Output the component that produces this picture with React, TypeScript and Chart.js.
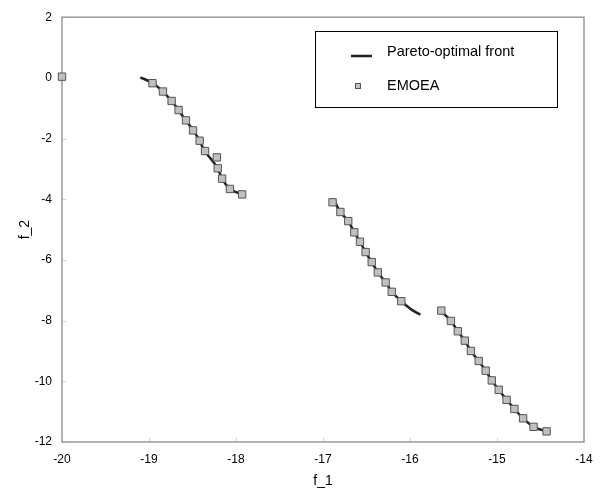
import React, { useEffect, useRef } from "react";
import { Chart, registerables } from "chart.js";

Chart.register(...registerables);

// Pareto-optimal front (three disconnected pieces)
const front1X = [-19.1, -18.96, -18.84, -18.74, -18.66, -18.58, -18.49, -18.42, -18.36, -18.28, -18.21, -18.16, -18.07, -17.93];
const front1Y = [0.02, -0.17, -0.45, -0.76, -1.06, -1.4, -1.73, -2.07, -2.41, -2.7, -2.98, -3.32, -3.66, -3.84];
const front2X = [-16.88, -16.8, -16.71, -16.64, -16.575, -16.51, -16.44, -16.37, -16.28, -16.21, -16.1, -16.0, -15.93, -15.88];
const front2Y = [-4.0, -4.42, -4.72, -5.09, -5.4, -5.74, -6.07, -6.41, -6.74, -7.05, -7.36, -7.6, -7.73, -7.8];
const front3X = [-15.66, -15.53, -15.45, -15.37, -15.3, -15.21, -15.13, -15.06, -14.98, -14.89, -14.8, -14.7, -14.58, -14.43];
const front3Y = [-7.64, -8.01, -8.35, -8.66, -9.0, -9.33, -9.65, -9.97, -10.28, -10.61, -10.91, -11.22, -11.5, -11.65];

// EMOEA solutions
const emoeaX = [
  -20.0, -18.96, -18.84, -18.74, -18.66, -18.575, -18.494, -18.418, -18.356, -18.22, -18.21, -18.16, -18.07, -17.93,
  -16.89, -16.8, -16.71, -16.64, -16.575, -16.51, -16.44, -16.37, -16.28, -16.21, -16.1,
  -15.64, -15.53, -15.45, -15.37, -15.3, -15.21, -15.13, -15.06, -14.98, -14.89, -14.8, -14.7, -14.58, -14.43,
];
const emoeaY = [
  0.04, -0.175, -0.45, -0.76, -1.06, -1.4, -1.73, -2.07, -2.41, -2.62, -2.98, -3.32, -3.66, -3.84,
  -4.1, -4.42, -4.72, -5.09, -5.4, -5.74, -6.07, -6.41, -6.74, -7.05, -7.36,
  -7.67, -8.01, -8.35, -8.66, -9.0, -9.33, -9.65, -9.97, -10.28, -10.61, -10.91, -11.22, -11.5, -11.65,
];

const xTicks = [-20, -19, -18, -17, -16, -15, -14];
const yTicks = [2, 0, -2, -4, -6, -8, -10, -12];

const frontLabel = "Pareto-optimal front";
const emoeaLabel = "EMOEA";
const xTitle = "f_1";
const yTitle = "f_2";

const FONT = "'Liberation Sans', Arial, sans-serif";

function pts(xs: number[], ys: number[]) {
  return xs.map((x, i) => ({ x, y: ys[i] }));
}

const framePlugin = {
  id: "frame",
  beforeDatasetsDraw(chart: any) {
    const { ctx, chartArea } = chart;
    const { left, right, top, bottom } = chartArea;
    const xs = chart.scales.x;
    const ys = chart.scales.y;
    ctx.save();
    ctx.strokeStyle = "#d0d0d0";
    ctx.lineWidth = 1;
    ctx.beginPath();
    xTicks.forEach((v) => {
      const px = Math.round(xs.getPixelForValue(v)) + 0.5;
      ctx.moveTo(px, bottom);
      ctx.lineTo(px, bottom - 4);
    });
    yTicks.forEach((v) => {
      const py = Math.round(ys.getPixelForValue(v)) + 0.5;
      ctx.moveTo(left, py);
      ctx.lineTo(left + 4, py);
    });
    ctx.stroke();
    ctx.strokeStyle = "#9a9a9a";
    ctx.lineWidth = 1.5;
    ctx.strokeRect(left, top, right - left, bottom - top);
    ctx.restore();
  },
  afterDraw(chart: any) {
    const { ctx } = chart;
    ctx.save();
    // legend box
    ctx.fillStyle = "#ffffff";
    ctx.fillRect(315, 31, 242, 76);
    ctx.strokeStyle = "#000000";
    ctx.lineWidth = 1;
    ctx.strokeRect(315.5, 31.5, 242, 76);
    // line sample
    ctx.strokeStyle = "#222222";
    ctx.lineWidth = 2.5;
    ctx.beginPath();
    ctx.moveTo(351, 56);
    ctx.lineTo(372, 56);
    ctx.stroke();
    // square sample
    ctx.fillStyle = "#c0c0c0";
    ctx.fillRect(355, 83, 6, 6);
    ctx.strokeStyle = "#555555";
    ctx.lineWidth = 1;
    ctx.strokeRect(355.5, 83.5, 5, 5);
    ctx.fillStyle = "#000000";
    ctx.font = `14.5px ${FONT}`;
    ctx.textBaseline = "middle";
    ctx.textAlign = "left";
    ctx.fillText(frontLabel, 387, 52);
    ctx.fillText(emoeaLabel, 387, 86);
    ctx.restore();
  },
};

export default function App() {
  const canvasRef = useRef<HTMLCanvasElement | null>(null);

  useEffect(() => {
    if (!canvasRef.current) return;
    const frontData = [
      ...pts(front1X, front1Y),
      { x: -17.5, y: null },
      ...pts(front2X, front2Y),
      { x: -15.7, y: null },
      ...pts(front3X, front3Y),
    ];
    const chart = new Chart(canvasRef.current, {
      type: "scatter",
      data: {
        datasets: [
          {
            label: emoeaLabel,
            data: pts(emoeaX, emoeaY),
            pointStyle: "rect",
            pointRadius: 5.2,
            pointBackgroundColor: "#c0c0c0",
            pointBorderColor: "#555555",
            pointBorderWidth: 1,
            showLine: false,
            clip: false,
            order: 0,
          } as any,
          {
            label: frontLabel,
            data: frontData as any,
            showLine: true,
            borderColor: "#222222",
            borderWidth: 2.5,
            pointRadius: 0,
            tension: 0.3,
            spanGaps: false,
            order: 1,
          } as any,
        ],
      },
      options: {
        animation: false,
        responsive: false,
        maintainAspectRatio: false,
        layout: { padding: { top: 10, right: 20, left: 0, bottom: 0 } },
        plugins: { legend: { display: false }, tooltip: { enabled: false } },
        scales: {
          x: {
            type: "linear",
            min: -20,
            max: -14,
            afterFit: (s: any) => {
              s.height = 49;
            },
            afterBuildTicks: (s: any) => {
              s.ticks = xTicks.map((v) => ({ value: v }));
            },
            grid: { display: false, drawTicks: false },
            border: { display: false },
            ticks: { color: "#000", font: { family: FONT, size: 12 }, padding: 10, maxRotation: 0 },
            title: { display: true, text: xTitle, color: "#000", font: { family: FONT, size: 14 }, padding: { top: 0, bottom: 1.6 } },
          },
          y: {
            type: "linear",
            min: -12,
            max: 2,
            afterFit: (s: any) => {
              s.width = 62;
            },
            afterBuildTicks: (s: any) => {
              s.ticks = yTicks.map((v) => ({ value: v }));
            },
            grid: { display: false, drawTicks: false },
            border: { display: false },
            ticks: { color: "#000", font: { family: FONT, size: 12 }, padding: 10 },
            title: { display: true, text: yTitle, color: "#000", font: { family: FONT, size: 14 }, padding: { top: 16.6, bottom: 0 } },
          },
        },
      },
      plugins: [framePlugin],
    });
    return () => chart.destroy();
  }, []);

  return (
    <div style={{ position: "fixed", left: 0, top: 0, width: 604, height: 491, background: "#fff" }}>
      <canvas ref={canvasRef} width={604} height={491} style={{ display: "block" }} />
    </div>
  );
}
